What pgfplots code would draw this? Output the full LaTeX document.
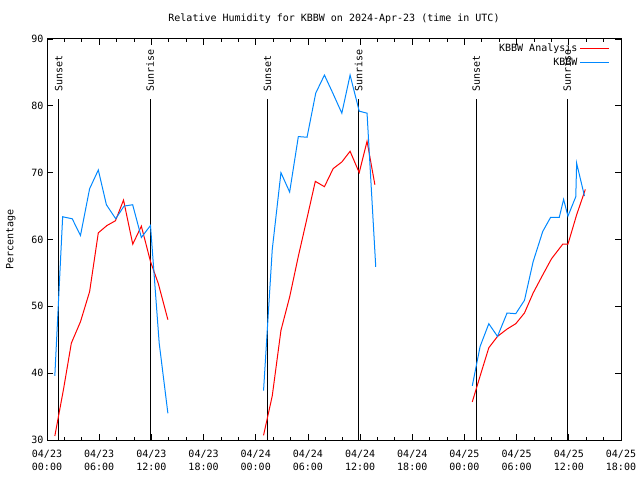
\documentclass[border=0pt]{standalone}
\usepackage{fontspec}
\setmainfont{DejaVu Sans Mono}
\usepackage{pgfplots}
\pgfplotsset{compat=1.18}
\definecolor{obsblue}{RGB}{0,136,255}
\definecolor{anared}{RGB}{255,0,0}

\begin{document}
\fontsize{10bp}{12bp}\selectfont
\begin{tikzpicture}
\path[use as bounding box] (0,0) rectangle (640bp,480bp);
\begin{axis}[
  at={(47bp,40bp)}, anchor=south west,
  scale only axis, width=574bp, height=401bp,
  xmin=0, xmax=66, ymin=30, ymax=90,
  xtick={0,6,...,66},
  xticklabels={{04/23\\00:00},{04/23\\06:00},{04/23\\12:00},{04/23\\18:00},
               {04/24\\00:00},{04/24\\06:00},{04/24\\12:00},{04/24\\18:00},
               {04/25\\00:00},{04/25\\06:00},{04/25\\12:00},{04/25\\18:00}},
  minor x tick num=2,
  ytick={30,40,...,90},
  tick align=inside,
  major tick length=6bp, minor tick length=3bp,
  tick style={black, line width=0.8bp},
  axis line style={line width=1bp},
  xticklabel style={align=center, font=\fontsize{10bp}{13bp}\selectfont, yshift=-7bp},
  yticklabel style={font=\fontsize{10bp}{12bp}\selectfont},
  /pgf/number format/assume math mode=true,
  title={Relative Humidity for KBBW on 2024-Apr-23 (time in UTC)},
  title style={at={(axis description cs:0.5,1)}, anchor=center, yshift=14bp, inner sep=0pt},
  ylabel={Percentage},
  ylabel style={at={(axis description cs:-0.063,0.5)}, anchor=center},
  unbounded coords=jump,
  legend plot pos=right,
  legend cell align=right,
  legend style={draw=none, fill=none, at={(axis description cs:0.981,0.995)}, anchor=north east,
    inner sep=0pt, row sep=0.5bp, nodes={inner sep=2.5bp}},
  legend image code/.code={\draw[#1] (0bp,0bp) -- (29bp,0bp);},
]
% sunset / sunrise markers
\addplot[black, line width=1bp, forget plot] coordinates {(1.36,30) (1.36,81)};
\addplot[black, line width=1bp, forget plot] coordinates {(11.85,30) (11.85,81)};
\addplot[black, line width=1bp, forget plot] coordinates {(25.35,30) (25.35,81)};
\addplot[black, line width=1bp, forget plot] coordinates {(35.84,30) (35.84,81)};
\addplot[black, line width=1bp, forget plot] coordinates {(49.35,30) (49.35,81)};
\addplot[black, line width=1bp, forget plot] coordinates {(59.8,30) (59.8,81)};
\node[rotate=90, anchor=west, inner sep=0pt] at (axis cs:1.36,82.1) {Sunset};
\node[rotate=90, anchor=west, inner sep=0pt] at (axis cs:11.85,82.1) {Sunrise};
\node[rotate=90, anchor=west, inner sep=0pt] at (axis cs:25.35,82.1) {Sunset};
\node[rotate=90, anchor=west, inner sep=0pt] at (axis cs:35.84,82.1) {Sunrise};
\node[rotate=90, anchor=west, inner sep=0pt] at (axis cs:49.35,82.1) {Sunset};
\node[rotate=90, anchor=west, inner sep=0pt] at (axis cs:59.8,82.1) {Sunrise};

\addplot[anared, line width=1bp] table {%
x y
0.9 30.6
1.9 37.6
2.8 44.5
3.85 47.7
4.9 52.2
5.9 61.0
6.9 62.1
7.87 62.8
8.8 65.9
9.86 59.3
10.85 62.0
11.9 56.7
12.8 53.4
13.9 48.0
nan nan
24.9 30.7
25.9 36.6
26.9 46.4
27.9 51.4
28.9 57.5
29.9 63.2
30.85 68.7
31.9 67.9
32.9 70.6
33.9 71.6
34.85 73.2
35.9 70.0
36.8 74.7
37.7 68.2
nan nan
48.9 35.7
49.9 40.0
50.8 43.8
51.8 45.5
52.9 46.6
53.9 47.4
54.9 49.0
55.9 52.0
57.0 54.7
58.0 57.1
59.3 59.3
59.9 59.3
60.9 63.7
61.9 67.5
};
\addlegendentry{KBBW Analysis}

\addplot[obsblue, line width=1bp] table {%
x y
0.9 39.6
1.8 63.4
2.9 63.1
3.85 60.6
4.9 67.6
5.9 70.4
6.83 65.2
7.9 63.1
8.86 65.0
9.85 65.2
10.85 60.3
11.9 62.1
12.9 44.5
13.9 34.0
nan nan
24.9 37.4
25.9 58.5
26.9 70.0
27.9 67.1
28.9 75.4
29.9 75.3
30.9 81.9
31.9 84.6
32.9 81.8
33.9 78.9
34.85 84.6
35.9 79.2
36.8 78.9
37.8 55.9
nan nan
48.9 38.1
49.8 44.0
50.8 47.4
51.8 45.5
52.9 49.0
53.9 48.9
54.9 50.9
55.9 56.7
57.0 61.2
57.9 63.3
58.9 63.3
59.4 66.0
59.9 63.5
60.8 66.4
60.9 71.4
61.8 66.5
};
\addlegendentry{KBBW}
\end{axis}
\end{tikzpicture}
\end{document}
